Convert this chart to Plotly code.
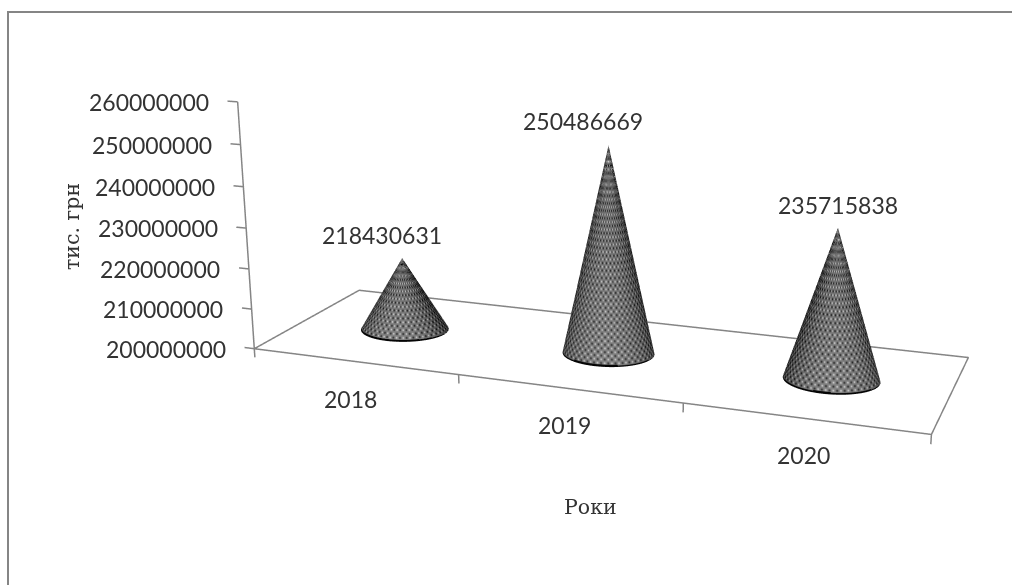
import numpy as np
import plotly.graph_objects as go

# Chart data
years = ["2018", "2019", "2020"]
values = [218430631, 250486669, 235715838]
z_ticks = [200000000, 210000000, 220000000, 230000000, 240000000, 250000000, 260000000]
axis_title_x = "Роки"
axis_title_z = "тис. грн"

W, H = 1012, 585
XR = (-0.05, 3.03)
YR = (-0.03, 1.03)
ZR = (197800000.0, 260300000.0)
Z0 = z_ticks[0]

# Camera of the 3D scene; the scene sits off-centre so its optical axis falls right of the page middle
EYE = dict(x=1.2339, y=-3.3602, z=0.9351)
CENTER = dict(x=0.0164, y=-0.0403, z=-0.1631)
UP = dict(x=0, y=0, z=1)
ASPECT = dict(x=1.61149, y=0.53869, z=0.60289)
DOMAIN = dict(x=[0.2, 1.0], y=[0.0, 1 - 35 / H])
FOVY = 0.3331

fig = go.Figure()

# Cone surfaces with a dotted halftone shading
for i, v in enumerate(values):
    th = np.linspace(0, 2 * np.pi, 361)
    t = np.linspace(0, 1, 241)
    T, TH = np.meshgrid(t, th, indexing="ij")
    rows = (v - Z0) / 1.7e6
    facing = np.clip(np.cos(TH + np.pi / 2 - .25), 0, 1)
    shade = .19 + .33 * facing
    d = np.cos(TH * 40) * np.cos(2 * np.pi * T * rows)
    col = shade - .34 * np.clip(-d, 0, 1) ** 2 + .34 * np.clip(d, 0, 1) ** 3
    col = col - .22 * T * (.5 + .5 * np.cos(2 * np.pi * T * rows))
    rim = T * (v - Z0) < .45e6 * np.clip(np.cos(TH + np.pi / 2), 0, 1) ** .5
    col = np.where(rim, .02, col)
    fig.add_trace(go.Surface(
        x=i + .5 + .205 * (1 - T) * np.cos(TH),
        y=.5 + .19 * (1 - T) * np.sin(TH),
        z=Z0 + T * (v - Z0),
        surfacecolor=col, colorscale=[[0, "#000000"], [1, "#ffffff"]], cmin=0, cmax=1,
        showscale=False, hoverinfo="skip",
        contours=dict(x=dict(highlight=False), y=dict(highlight=False), z=dict(highlight=False)),
        lighting=dict(ambient=1, diffuse=0, specular=0, fresnel=0, roughness=1)))

# Floor outline, value axis and tick marks
lx, ly, lz = [], [], []
def seg(*pts):
    for p in pts:
        lx.append(p[0]); ly.append(p[1]); lz.append(p[2])
    lx.append(None); ly.append(None); lz.append(None)

seg((0, 0, Z0), (3, 0, Z0), (3, 1, Z0), (0, 1, Z0), (0, 0, Z0))
seg((0, 0, Z0), (0, 0, z_ticks[-1]))
for tk in z_ticks:
    seg((0, 0, tk), (XR[0], 0, tk))
for k in range(len(years) + 1):
    seg((k, 0, Z0), (k, 0, ZR[0]))
fig.add_trace(go.Scatter3d(x=lx, y=ly, z=lz, mode="lines", line=dict(color="#858585", width=3),
                           hoverinfo="skip", showlegend=False))

# Tick labels and value labels
LBL = dict(family="Lato", size=23, color="#333333")
anns = []
for tk in z_ticks:
    anns.append(dict(x=0, y=0, z=tk, text=str(tk), showarrow=False, xanchor="right", xshift=-27, font=LBL))
for i, (yr, dx, dy) in enumerate(zip(years, [-4, -4, -1], [-38, -37, -37])):
    anns.append(dict(x=i + .5, y=0, z=Z0, text=yr, showarrow=False, xshift=dx, yshift=dy, font=LBL))
for i, (v, dx, dy) in enumerate(zip(values, [-20, -26, 0], [23, 24, 23])):
    anns.append(dict(x=i + .5, y=.5, z=v, text=str(v), showarrow=False, xshift=dx, yshift=dy, font=LBL))

AX = dict(title="", showticklabels=False, showgrid=False, showbackground=False, zeroline=False,
          ticks="", showline=False, showspikes=False)
TITLE = dict(family="DejaVu Serif", size=20.5, color="#333333")
fig.update_layout(
    width=W, height=H, margin=dict(l=0, r=0, t=0, b=0), paper_bgcolor="white", showlegend=False,
    shapes=[dict(type="path", xref="paper", yref="paper",
                 path=f"M {8/W} 0 L {8/W} {1-12/H} L 1 {1-12/H}", line=dict(color="#858585", width=2))],
    annotations=[
        dict(text=axis_title_x, x=590 / W, y=1 - 507 / H, xref="paper", yref="paper", showarrow=False,
             xanchor="center", yanchor="middle", font=TITLE),
        dict(text=axis_title_z, x=72 / W, y=1 - 227 / H, xref="paper", yref="paper", showarrow=False,
             textangle=-90, xanchor="center", yanchor="middle", font=TITLE)],
    scene=dict(domain=DOMAIN, aspectmode="manual", aspectratio=ASPECT,
               camera=dict(eye=EYE, center=CENTER, up=UP, projection=dict(type="perspective")),
               xaxis=dict(range=XR, **AX), yaxis=dict(range=YR, **AX), zaxis=dict(range=ZR, **AX),
               annotations=anns))

# The scene has no layout attribute for its field of view, so it is set on the GL plot once drawn
fig.write_html("out.html", post_script=(
    "var g=document.getElementById('{plot_id}');var s=g._fullLayout.scene._scene;"
    f"s.glplot.fovy={FOVY};s.glplot.redraw();"))
